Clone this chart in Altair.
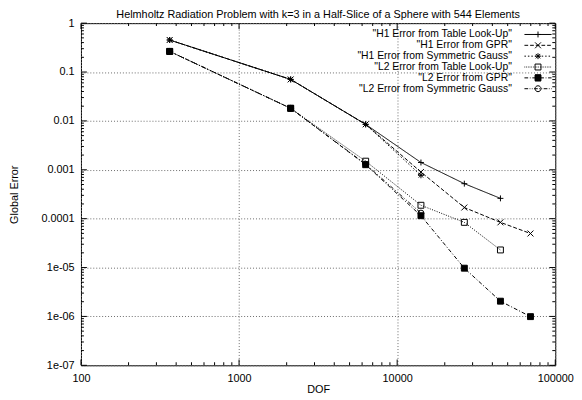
import altair as alt
import pandas as pd

# ---------------- data ----------------
dof = [364, 2120, 6320, 14140, 26600, 45000, 69700]
series_names = [
    "H1 Error from Table Look-Up",
    "H1 Error from GPR",
    "H1 Error from Symmetric Gauss",
    "L2 Error from Table Look-Up",
    "L2 Error from GPR",
    "L2 Error from Symmetric Gauss",
]
h1_table = [0.452, 0.0706, 0.0085, 0.00141, 0.00052, 0.00026]
h1_gpr = [0.452, 0.0706, 0.0085, 0.00090, 0.000169, 8.4e-5, 4.97e-5]
h1_sym = [0.452, 0.0706, 0.0085, 0.00077]
l2_table = [0.264, 0.0181, 0.00150, 0.000188, 8.4e-5, 2.29e-5]
l2_gpr = [0.264, 0.0181, 0.00127, 0.000115, 9.7e-6, 2.05e-6, 9.9e-7]
l2_sym = [0.264, 0.0181, 0.00130, 0.000130]

x_domain = [100, 100000]
y_domain = [1e-7, 1]
x_ticks = [100, 1000, 10000, 100000]
x_tick_labels = ["100", "1000", "10000", "100000"]
y_ticks = [1e-7, 1e-6, 1e-5, 1e-4, 1e-3, 1e-2, 1e-1, 1]
y_tick_labels = ["1e-07", "1e-06", "1e-05", "0.0001", "0.001", "0.01", "0.1", "1"]

title_text = "Helmholtz Radiation Problem with k=3 in a Half-Slice of a Sphere with 544 Elements"

# ---------------- tables ----------------
rows = []
for name, vals in zip(series_names, [h1_table, h1_gpr, h1_sym, l2_table, l2_gpr, l2_sym]):
    for i, v in enumerate(vals):
        rows.append({"series": name, "dof": dof[i], "err": v, "order": i})
df = pd.DataFrame(rows)

x_minor = [m * 10 ** e for e in range(2, 5) for m in range(2, 10)]
y_minor = [m * 10.0 ** e for e in range(-7, 0) for m in range(2, 10)]

# ---------------- styles ----------------
FONT = "Liberation Sans"
W, H = 481, 347

dashes = [[1, 0], [4, 2], [1.5, 2], [1, 1.5], [4, 2, 1, 2], [4, 2, 1, 2, 1, 2]]

plus = "M-1,0L1,0M0,-1L0,1"
cross = "M-1,-1L1,1M-1,1L1,-1"
star = "M-1,0L1,0M0,-1L0,1M-0.75,-0.75L0.75,0.75M-0.75,0.75L0.75,-0.75"
marker_shapes = [plus, cross, star, "square", "square", "circle"]
marker_fills = ["transparent", "transparent", "transparent", "transparent", "black", "transparent"]


def seg_line(pattern, half=2.75):
    """Dashed horizontal sample line for the legend, as path pieces."""
    if not pattern:
        return "M%.2f,0L%.2f,0" % (-half, half)
    out = []
    x = -half
    k = 0
    while x < half:
        on = pattern[k % len(pattern)]
        off = pattern[(k + 1) % len(pattern)]
        x2 = min(x + on, half)
        out.append("M%.2f,0L%.2f,0" % (x, x2))
        x = x2 + off
        k += 2
    return "".join(out)


s = 0.6
sq = "M-%s,-%s L%s,-%s L%s,%s L-%s,%s Z" % (s, s, s, s, s, s, s, s)
sq_fill = sq + "".join("M-%s,%.2fL%s,%.2f" % (s, -s + 0.1 * i, s, -s + 0.1 * i) for i in range(13))
leg_markers = [
    "M-%s,0L%s,0M0,-%s L0,%s" % (s, s, s, s),
    "M-%s,-%s L%s,%s M-%s,%s L%s,-%s" % (s, s, s, s, s, s, s, s),
    "M-%s,0L%s,0M0,-%s L0,%s M-0.45,-0.45L0.45,0.45M-0.45,0.45L0.45,-0.45" % (s, s, s, s),
    sq,
    sq_fill,
    "M%s,0A%s,%s 0 1,1 -%s,0A%s,%s 0 1,1 %s,0Z" % (s, s, s, s, s, s, s),
]
leg_dash_units = [[], [0.75, 0.4], [0.3, 0.4], [0.15, 0.2], [0.75, 0.35, 0.15, 0.35],
                  [0.75, 0.3, 0.15, 0.3, 0.15, 0.3]]
leg_shapes = [seg_line(p) + m for p, m in zip(leg_dash_units, leg_markers)]

xscale = alt.Scale(type="log", domain=x_domain, nice=False)
yscale = alt.Scale(type="log", domain=y_domain, nice=False)

x_label_expr = "[" + ",".join("'%s'" % t for t in x_tick_labels) + "][round(log(datum.value)/LN10)-2]"
y_label_expr = "[" + ",".join("'%s'" % t for t in y_tick_labels) + "][round(log(datum.value)/LN10)+7]"

main_x = alt.Axis(orient="bottom", values=x_ticks, labelExpr=x_label_expr, grid=True,
                  gridDash=[1, 2], gridColor="#6a6a6a", gridWidth=1, ticks=False, domain=False,
                  labelPadding=7, labelFontSize=11, labelFont=FONT, labelColor="black",
                  labelFlush=False, labelOverlap=False,
                  title="DOF", titleFont=FONT, titleFontSize=11, titleFontWeight="normal",
                  titleColor="black", titlePadding=1)
main_y = alt.Axis(orient="left", values=y_ticks, labelExpr=y_label_expr, grid=True,
                  gridDash=[1, 2], gridColor="#6a6a6a", gridWidth=1, ticks=False, domain=False,
                  labelPadding=7, labelFontSize=11, labelFont=FONT, labelColor="black",
                  labelFlush=False, labelOverlap=False,
                  title="Global Error", titleFont=FONT, titleFontSize=11, titleFontWeight="normal",
                  titleColor="black", titlePadding=22)

base = alt.Chart(df)

lines = base.mark_line(color="black", strokeWidth=1).encode(
    x=alt.X("dof:Q", scale=xscale, axis=main_x),
    y=alt.Y("err:Q", scale=yscale, axis=main_y),
    strokeDash=alt.StrokeDash("series:N", scale=alt.Scale(domain=series_names, range=dashes), legend=None),
    order="order:Q",
)

points = base.mark_point(color="black", strokeWidth=1, opacity=1, size=36).encode(
    x=alt.X("dof:Q", scale=xscale, axis=None),
    y=alt.Y("err:Q", scale=yscale, axis=None),
    shape=alt.Shape("series:N", scale=alt.Scale(domain=series_names, range=marker_shapes), legend=None),
    fill=alt.Fill("series:N", scale=alt.Scale(domain=series_names, range=marker_fills), legend=None),
)

legend_layer = base.mark_point(
    color="black", strokeWidth=1, opacity=1, size=100, filled=False
).encode(
    x=alt.X("dof:Q", scale=xscale, axis=None),
    y=alt.Y("err:Q", scale=yscale, axis=None),
    shape=alt.Shape(
        "series:N", scale=alt.Scale(domain=series_names, range=leg_shapes),
        legend=alt.Legend(
            orient="none", legendX=458, legendY=6, title=None, padding=0, rowPadding=0,
            symbolSize=100, symbolStrokeWidth=1, symbolStrokeColor="black", symbolOpacity=1,
            labelAlign="right", labelOffset={"expr": "-32"}, labelFont=FONT, labelFontSize=10.5,
            labelColor="black", labelLimit=400, labelExpr="'\"' + datum.label + '\"'",
        ),
    ),
    opacity=alt.value(0),
)


def x_ticks_layer(values, edge, length):
    shift = -length / 2 if edge == y_domain[0] else length / 2
    data = pd.DataFrame({"v": values, "e": [edge] * len(values)})
    return alt.Chart(data).mark_tick(orient="vertical", color="black", thickness=1,
                                     size=length, opacity=1, yOffset=shift).encode(
        x=alt.X("v:Q", scale=xscale, axis=None),
        y=alt.Y("e:Q", scale=yscale, axis=None),
    )


def y_ticks_layer(values, edge, length):
    shift = length / 2 if edge == x_domain[0] else -length / 2
    data = pd.DataFrame({"v": values, "e": [edge] * len(values)})
    return alt.Chart(data).mark_tick(orient="horizontal", color="black", thickness=1,
                                     size=length, opacity=1, xOffset=shift).encode(
        x=alt.X("e:Q", scale=xscale, axis=None),
        y=alt.Y("v:Q", scale=yscale, axis=None),
    )


tick_layers = [
    x_ticks_layer(x_ticks, y_domain[0], 6), x_ticks_layer(x_minor, y_domain[0], 3),
    x_ticks_layer(x_ticks, y_domain[1], 6), x_ticks_layer(x_minor, y_domain[1], 3),
    y_ticks_layer(y_ticks, x_domain[0], 6), y_ticks_layer(y_minor, x_domain[0], 3),
    y_ticks_layer(y_ticks, x_domain[1], 6), y_ticks_layer(y_minor, x_domain[1], 3),
]

chart = alt.layer(lines, points, legend_layer, *tick_layers).resolve_axis(
    x="independent", y="independent"
).resolve_scale(shape="independent", fill="independent").properties(
    width=W, height=H,
    autosize=alt.AutoSizeParams(type="none"),
    padding={"left": 74, "top": 12.6, "right": 19, "bottom": 30},
    title=alt.Title(title_text, font=FONT, fontSize=11, fontWeight="normal", color="black",
                    anchor="middle", offset=-3),
).configure_view(stroke="black", strokeWidth=1)

chart.save("out.html", embed_options={"renderer": "svg", "actions": False})
